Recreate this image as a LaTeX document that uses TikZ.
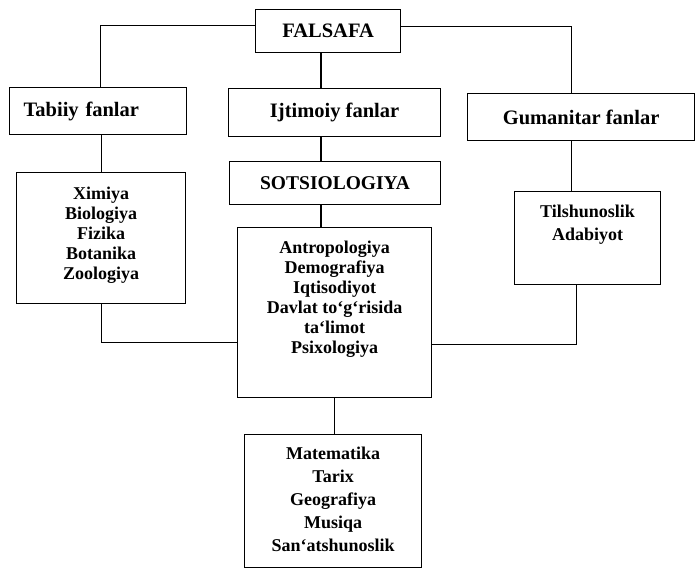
\documentclass[tikz,border=0pt]{standalone}
\usepackage{fontspec}
\setmainfont{Liberation Serif}
\usepackage{tikz}
\usetikzlibrary{positioning,calc}
\tikzset{
    box/.style={draw, line width=1.2pt, anchor=north west, inner sep=0pt},
    headbox/.style={box, font=\fontsize{20.5}{24}\selectfont\bfseries},
    listbox/.style={box, font=\fontsize{18}{20}\selectfont\bfseries},
    link/.style={line width=1.2pt},
  }
% width, height, first baseline, line skip, lines
\newcommand{\subjects}[5]{\parbox[c][#2][t]{#1}{\centering\baselineskip=#4\rule{0pt}{#3}#5\par}}

\begin{document}
\begin{tikzpicture}[x=1pt,y=-1pt]
    \useasboundingbox (0,0) rectangle (696,573);
    \coordinate (spine) at (321,0);

    \node[headbox, minimum width=145pt, minimum height=43pt] (fals) at (255,9) {FALSAFA};

    %% branches
    \node[headbox, text width=149pt, align=left, inner xsep=14pt, minimum height=47pt] (tab) at (9,87) {Tabiiy fanlar};
    \node[headbox, minimum width=212pt, minimum height=48pt] (ijt) at (228,88) {Ijtimoiy fanlar};
    \node[headbox, minimum width=227pt, minimum height=47pt] (gum) at (467,93) {Gumanitar fanlar};
    \draw[link] ([yshift=5.5pt]fals.west) -| ([xshift=2.5pt]tab.north);
    \draw[link] ([yshift=4.5pt]fals.east) -| ([xshift=-9.5pt]gum.north);
    \draw[link] (spine |- fals.south) -- (spine |- ijt.north);

    %% middle column
    \node[headbox, font=\fontsize{19.5}{24}\selectfont\bfseries, minimum width=211pt, minimum height=43pt] (sots) at (229,161) {SOTSIOLOGIYA};
    \node[listbox] (antr) at (237,227) {\subjects{194pt}{170pt}{26pt}{20pt}{Antropologiya\\Demografiya\\Iqtisodiyot\\Davlat to‘g‘risida\\ta‘limot\\Psixologiya}};
    \draw[link] (spine |- ijt.south) -- (spine |- sots.north);
    \draw[link] (spine |- sots.south) -- (spine |- antr.north);

    %% lists
    \node[listbox] (xim) at (16,172) {\subjects{169pt}{131pt}{27pt}{20pt}{Ximiya\\Biologiya\\Fizika\\Botanika\\Zoologiya}};
    \node[listbox] (til) at (514,191) {\subjects{146pt}{93pt}{26pt}{23pt}{Tilshunoslik\\Adabiyot}};
    \node[listbox] (mat) at (244,434) {\subjects{177pt}{133pt}{25pt}{23pt}{Matematika\\Tarix\\Geografiya\\Musiqa\\San‘atshunoslik}};
    \draw[link] (xim.north) -- (xim.north |- tab.south);
    \draw[link] ([xshift=-9.5pt]gum.south) -- ([xshift=-9.5pt]gum.south |- til.north);
    \draw[link] (xim.south) |- ([yshift=-30pt]antr.west);
    \draw[link] ([xshift=-11pt]til.south) |- ([yshift=-32pt]antr.east);
    \draw[link] (antr.south) -- (antr.south |- mat.north);
  \end{tikzpicture}
\end{document}
